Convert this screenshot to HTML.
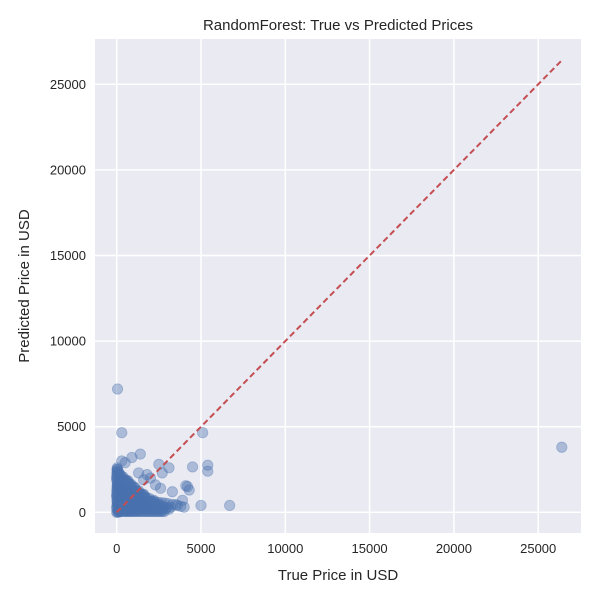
<!DOCTYPE html>
<html><head><meta charset="utf-8"><style>
body{margin:0;background:#fff;}
svg{display:block;font-family:"Liberation Sans","DejaVu Sans",sans-serif;}
</style></head><body>
<svg id="c" width="600" height="600">
<rect x="95" y="39" width="486" height="494" fill="#eaeaf2"/>
<g id="grid"></g>
<g id="pts"></g>
<g id="ref"></g>
<g id="ticks"></g>
<text x="338" y="30" text-anchor="middle" font-size="15" fill="#262626">RandomForest: True vs Predicted Prices</text>
<text x="338" y="580" text-anchor="middle" font-size="15" fill="#262626">True Price in USD</text>
<text x="29" y="286" text-anchor="middle" font-size="15" fill="#262626" transform="rotate(-90 29 286)">Predicted Price in USD</text>
</svg>
<script>
const xTicks=[0,5000,10000,15000,20000,25000];
const yTicks=[0,5000,10000,15000,20000,25000];
const trueVals=[50,300,26400,5100,5400,5400,4500,6700,5000,4100,4200,4300,3300,3500,3900,3100,2500,2700,1400,900,300,500,
100,150,200,250,400,600,700,800,1000,1200,100,200,350,500,650,800,950,1100,1300,1500,1700,1900,2100,2300,2500,2700,2900,3100,
60,120,180,260,380,520,640,760,880,1020,1180,1340,1520,1680,1860,2040,2220,2400,2600,2800,3000,3200,
80,160,240,330,420,540,700,860,1050,1250,1450,1650,1850,2050,2250,2450,2650,2850,3050,3300,3600,3800,4000,
90,170,260,360,470,600,750,900,1100,1300,1500,1700,1950,2200,
70,140,230,320,450,580,720,880,1040,1220,1400,1600,
40,110,190,280,370,480,610,740,900,1080,
30,80,130,210,290,390,500,640,50,100,150,20,60,1300,1800,2300,2600,2000,1600,
0,10,20,30,40,0,10,20,30,40,0,15,25,35,0,15,25,35,0,20,40,0,20,40,10,30,
120,220,320,420,520,620,720,820,920,1020,1120,1220,1320,1420,1520,1620,1720,1820,1920,2020,2120,2220,2320,2420,2520,2620,2720,2820,
130,230,330,430,530,630,730,830,930,1030,1130,1230,1330,1430,1530,1630,1730,1830,1930,2030,2130,2230,2330,2430,2530,2630,2730,
150,250,350,450,550,650,750,850,950,1050,1150,1250,1350,1450,1550,1650,1750,1850,1950,2050,2150,2250,2350,2450,2550,
160,260,360,460,560,660,760,860,960,1060,1160,1260,1360,1460,1560,1660,1760,1860,1960,2060,2160,
180,280,380,480,580,680,780,880,980,1080,1180,1280,1380,1480,1580,1680,1780,
200,300,400,500,600,700,800,900,1000,1100,1200,1300,1400,1500,1600,
210,310,410,510,610,710,810,910,1010,1110,1210,1310,
220,320,420,520,620,720,820,920,1020,
240,340,440,540,640,740,840,
260,360,460,560,660];
const predVals=[7200,4650,3800,4650,2750,2400,2650,400,400,1550,1500,1300,1200,450,700,2600,2800,2300,3400,3200,3000,2900,
100,200,150,80,120,90,60,110,70,100,300,350,250,280,320,260,300,220,240,180,200,160,190,150,170,140,200,180,
500,600,450,550,480,520,470,400,430,500,380,420,460,350,400,420,380,300,350,320,280,300,
800,900,850,760,820,780,700,740,680,720,660,700,640,620,600,580,560,540,500,450,400,350,300,
1200,1300,1250,1150,1100,1050,1000,1050,950,900,950,850,800,700,
1600,1700,1550,1500,1450,1400,1350,1300,1250,1200,1100,1000,
2000,2200,2100,1900,1850,1800,1700,1650,1550,1450,
2500,2400,2300,2200,2100,2050,1900,1800,10,30,20,1000,1500,2300,2200,1600,1400,2000,1900,
0,200,400,600,800,1000,1200,1400,1600,1800,2000,2200,2400,2600,300,700,1100,1500,1900,2300,500,900,1300,1700,2100,2500,
50,50,50,50,50,50,50,50,50,50,50,50,50,50,50,50,50,50,50,50,50,50,50,50,50,50,50,50,
250,250,250,250,250,250,250,250,250,250,250,250,250,250,250,250,250,250,250,250,250,250,250,250,250,250,250,
450,450,450,450,450,450,450,450,450,450,450,450,450,450,450,450,450,450,450,450,450,450,450,450,450,
650,650,650,650,650,650,650,650,650,650,650,650,650,650,650,650,650,650,650,650,650,
850,850,850,850,850,850,850,850,850,850,850,850,850,850,850,850,850,
1050,1050,1050,1050,1050,1050,1050,1050,1050,1050,1050,1050,1050,1050,1050,
1250,1250,1250,1250,1250,1250,1250,1250,1250,1250,1250,1250,
1450,1450,1450,1450,1450,1450,1450,1450,1450,
1650,1650,1650,1650,1650,1650,1650,
1850,1850,1850,1850,1850];
const maxTrue=26400;
const X=v=>116.7+v*84.3/5000, Y=v=>512.3-v*85.6/5000;
const NS='http://www.w3.org/2000/svg';
const grid=document.getElementById('grid'),ticks=document.getElementById('ticks');
xTicks.forEach(t=>{
 const l=document.createElementNS(NS,'line');
 
 
 l.setAttribute('x1',X(t));l.setAttribute('x2',X(t));l.setAttribute('y1',39);l.setAttribute('y2',533);
 l.setAttribute('stroke','#fff');l.setAttribute('stroke-width','1.5');grid.appendChild(l);
 const s=document.createElementNS(NS,'text');
 
 
 s.setAttribute('x',X(t));s.setAttribute('y',553);s.setAttribute('text-anchor','middle');
 s.setAttribute('font-size','13');s.setAttribute('fill','#262626');s.textContent=t;ticks.appendChild(s);
});
yTicks.forEach(t=>{
 const l=document.createElementNS(NS,'line');
 
 
 l.setAttribute('x1',95);l.setAttribute('x2',581);l.setAttribute('y1',Y(t));l.setAttribute('y2',Y(t));
 l.setAttribute('stroke','#fff');l.setAttribute('stroke-width','1.5');grid.appendChild(l);
 const s=document.createElementNS(NS,'text');
 
 
 s.setAttribute('x',86);s.setAttribute('y',Y(t)+4.5);s.setAttribute('text-anchor','end');
 s.setAttribute('font-size','13');s.setAttribute('fill','#262626');s.textContent=t;ticks.appendChild(s);
});
const pts=document.getElementById('pts');
trueVals.forEach((v,i)=>{
 const c=document.createElementNS(NS,'circle');
 
 
 c.setAttribute('cx',X(v));c.setAttribute('cy',Y(predVals[i]));c.setAttribute('r',5.2);
 c.setAttribute('fill','#4c72b0');c.setAttribute('fill-opacity','0.4');
 c.setAttribute('stroke','#4c72b0');c.setAttribute('stroke-opacity','0.4');c.setAttribute('stroke-width','0.8');
 pts.appendChild(c);
});
const r=document.createElementNS(NS,'line');


r.setAttribute('x1',X(0));r.setAttribute('y1',Y(0));r.setAttribute('x2',X(maxTrue));r.setAttribute('y2',Y(maxTrue));
r.setAttribute('stroke','#c44e52');r.setAttribute('stroke-width','2');r.setAttribute('stroke-dasharray','6,3.5');
document.getElementById('ref').appendChild(r);
</script>
</body></html>
